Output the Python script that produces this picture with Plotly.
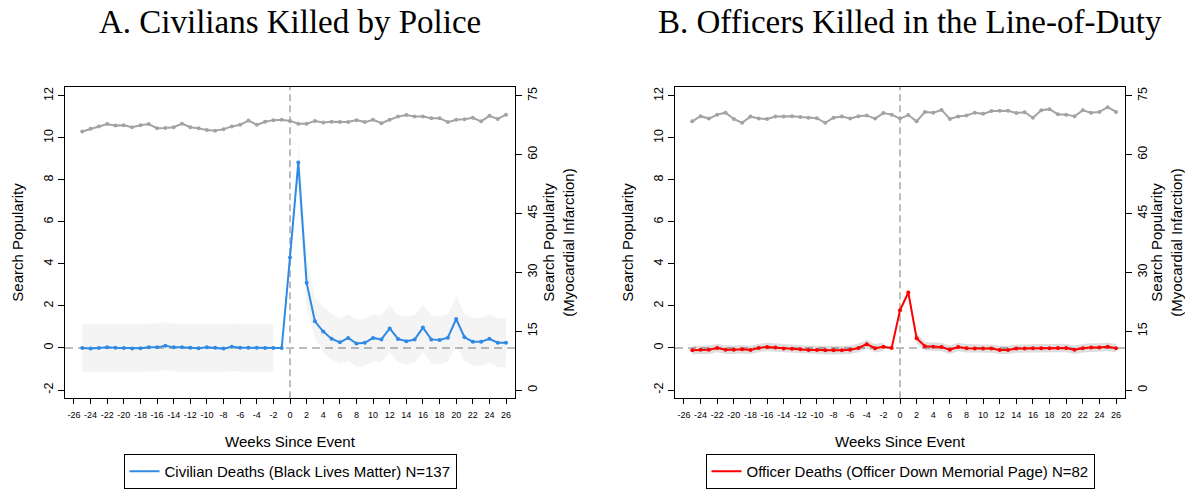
import plotly.graph_objects as go

# ---------------- data ----------------
weeks = list(range(-25, 27))
weeks_pre_band = list(range(-25, -1))     # -25 .. -2
weeks_post_band = list(range(1, 27))      # 1 .. 26
x_ticks = list(range(-26, 27, 2))
x_tick_labels = [str(v) for v in x_ticks]
left_ticks = list(range(-2, 13, 2))
left_tick_labels = [str(v) for v in left_ticks]
right_ticks = [0, 15, 30, 45, 60, 75]

# Panel A: civilians killed by police (Black Lives Matter searches)
blm = [0.0, -0.03, 0.0, 0.03, 0.01, 0.0, -0.03, -0.01, 0.03, 0.03, 0.11, 0.03, 0.03,
       0.01, -0.01, 0.03, 0.01, -0.03, 0.06, 0.01, 0.01, 0.01, 0.0, 0.0, 0.0,
       4.31, 8.83, 3.1, 1.27, 0.78, 0.44, 0.27, 0.48, 0.21, 0.25, 0.48, 0.41, 0.93,
       0.43, 0.32, 0.4, 0.97, 0.41, 0.38, 0.49, 1.38, 0.51, 0.3, 0.3, 0.44, 0.25, 0.25]
blm_pre_hi = [1.14, 1.12, 1.14, 1.16, 1.15, 1.14, 1.12, 1.13, 1.16, 1.16, 1.22, 1.16,
              1.15, 1.14, 1.12, 1.15, 1.14, 1.12, 1.17, 1.14, 1.14, 1.14, 1.13, 1.13]
blm_pre_lo = [-1.14, -1.16, -1.14, -1.12, -1.13, -1.14, -1.16, -1.15, -1.12, -1.12, -1.05, -1.12,
              -1.12, -1.13, -1.15, -1.12, -1.14, -1.16, -1.10, -1.13, -1.13, -1.13, -1.14, -1.14]
blm_post_hi = [10.0, 4.3, 2.4, 1.95, 1.64, 1.42, 1.6, 1.35, 1.38, 1.6, 1.56, 2.06, 1.57,
               1.5, 1.57, 2.07, 1.55, 1.52, 1.62, 2.47, 1.64, 1.44, 1.44, 1.6, 1.41, 1.41]
blm_post_lo = [7.6, 1.9, 0.5, -0.2, -0.55, -0.75, -0.62, -0.9, -0.84, -0.64, -0.68, -0.2, -0.68,
               -0.78, -0.7, -0.16, -0.74, -0.8, -0.66, 0.15, -0.62, -0.84, -0.84, -0.7, -0.92, -0.92]
mi_a = [65.9, 66.6, 67.2, 67.8, 67.4, 67.5, 67.0, 67.5, 67.8, 66.7, 66.8, 67.0, 67.9,
        67.0, 66.7, 66.3, 66.1, 66.5, 67.2, 67.6, 68.7, 67.6, 68.4, 68.8, 68.9,
        68.6, 67.9, 67.9, 68.6, 68.2, 68.4, 68.3, 68.3, 68.8, 68.3, 68.9, 68.0, 68.9,
        69.7, 70.1, 69.7, 69.7, 69.3, 69.3, 68.3, 68.9, 69.0, 69.4, 68.5, 69.9, 69.1, 70.2]

# Panel B: officers killed in the line of duty (Officer Down Memorial Page searches)
odmp = [-0.11, -0.08, -0.08, 0.0, -0.08, -0.08, -0.06, -0.09, 0.0, 0.05, 0.02, -0.03, -0.04,
        -0.06, -0.09, -0.09, -0.11, -0.11, -0.11, -0.08, 0.0, 0.18, -0.01, 0.06, 0.0,
        1.79, 2.64, 0.46, 0.08, 0.06, 0.05, -0.08, 0.05, -0.01, -0.03, -0.03, -0.03, -0.09,
        -0.09, -0.03, -0.03, -0.01, -0.01, -0.01, 0.0, 0.0, -0.08, -0.01, 0.02, 0.02, 0.06, -0.01]
odmp_pre_hi = [0.09, 0.12, 0.12, 0.2, 0.12, 0.12, 0.14, 0.11, 0.2, 0.25, 0.22, 0.17,
               0.16, 0.14, 0.11, 0.11, 0.09, 0.09, 0.09, 0.12, 0.21, 0.38, 0.19, 0.26]
odmp_pre_lo = [-0.31, -0.28, -0.28, -0.2, -0.28, -0.28, -0.26, -0.29, -0.2, -0.15, -0.18, -0.23,
               -0.24, -0.26, -0.29, -0.29, -0.31, -0.31, -0.31, -0.28, -0.2, -0.02, -0.21, -0.14]
odmp_post_hi = [2.84, 0.7, 0.28, 0.26, 0.25, 0.12, 0.25, 0.19, 0.17, 0.17, 0.17, 0.11, 0.11,
                0.17, 0.17, 0.19, 0.19, 0.19, 0.2, 0.2, 0.12, 0.19, 0.22, 0.22, 0.26, 0.19]
odmp_post_lo = [2.44, 0.22, -0.12, -0.14, -0.15, -0.28, -0.15, -0.21, -0.23, -0.23, -0.23, -0.29, -0.29,
                -0.23, -0.23, -0.21, -0.21, -0.21, -0.2, -0.2, -0.28, -0.21, -0.18, -0.18, -0.14, -0.21]
mi_b = [68.5, 69.8, 69.2, 70.2, 70.7, 69.1, 68.1, 69.7, 69.2, 69.1, 69.7, 69.7, 69.8,
        69.6, 69.4, 69.3, 68.1, 69.4, 69.7, 69.2, 69.8, 70.0, 69.2, 70.6, 70.2,
        69.2, 70.1, 68.5, 70.9, 70.7, 71.4, 69.1, 69.7, 70.0, 70.7, 70.4, 71.1, 71.2,
        71.2, 70.6, 70.8, 69.4, 71.3, 71.6, 70.3, 70.2, 69.8, 71.3, 70.7, 70.9, 72.1, 70.9]

# ---------------- styling ----------------
W, H = 1185, 489
BLUE = "#2f8ae6"
RED = "#ff0000"
GRAY = "#a3a3a3"
SANS = "Liberation Sans, Arial, sans-serif"
SERIF = "Liberation Serif, Times New Roman, serif"

def band(xs, hi, lo, xa, ya, color):
    return go.Scatter(x=xs + xs[::-1], y=hi + lo[::-1], mode="lines", fill="toself",
                      fillcolor=color, line=dict(width=0), hoverinfo="skip",
                      showlegend=False, xaxis=xa, yaxis=ya)

def series(xs, ys, xa, ya, color, name=None, legend=None):
    """Line (carries the legend entry) plus its point markers."""
    out = [go.Scatter(x=xs, y=ys, mode="lines", xaxis=xa, yaxis=ya,
                      line=dict(color=color, width=2),
                      name=name or "", showlegend=name is not None,
                      legend=legend or "legend")]
    out.append(go.Scatter(x=xs, y=ys, mode="markers", xaxis=xa, yaxis=ya,
                          marker=dict(color=color, size=4), showlegend=False,
                          name=name or "", hoverinfo="skip"))
    return out

fig = go.Figure()

# Panel A
fig.add_trace(band(weeks_pre_band, blm_pre_hi, blm_pre_lo, "x", "y", "rgba(0,0,0,0.045)"))
fig.add_trace(band(weeks_post_band, blm_post_hi, blm_post_lo, "x", "y", "rgba(0,0,0,0.045)"))
fig.add_traces(series(weeks, mi_a, "x", "y2", GRAY))
fig.add_traces(series(weeks, blm, "x", "y", BLUE,
                      "Civilian Deaths (Black Lives Matter) N=137", "legend"))

# Panel B
fig.add_trace(band(weeks_pre_band, odmp_pre_hi, odmp_pre_lo, "x2", "y3", "rgba(0,0,0,0.13)"))
fig.add_trace(band(weeks_post_band, odmp_post_hi, odmp_post_lo, "x2", "y3", "rgba(0,0,0,0.13)"))
fig.add_traces(series(weeks, mi_b, "x2", "y4", GRAY))
fig.add_traces(series(weeks, odmp, "x2", "y3", RED,
                      "Officer Deaths (Officer Down Memorial Page) N=82", "legend2"))

# reference lines
for xa, ya in (("x", "y"), ("x2", "y3")):
    fig.add_shape(type="line", xref=xa, yref=ya + " domain", x0=0, x1=0, y0=0, y1=1,
                  line=dict(color="#9a9a9a", width=1.3, dash="7px,4px"), layer="below")
    fig.add_shape(type="line", xref=xa + " domain", yref=ya, x0=0, x1=1, y0=0, y1=0,
                  line=dict(color="#bdbdbd", width=2, dash="8px,5px"), layer="below")

# geometry (pixels -> paper)
plot_top, plot_bot = 87, 399
ydom = [1 - plot_bot / H, 1 - plot_top / H]
xdomA = [65 / W, 515 / W]
xdomB = [675 / W, 1125 / W]
yr_left = [-2.388, 12.427]
yr_right = [-2.08, 77.29]
xr = [-27.08, 27.08]

common_axis = dict(showline=True, linecolor="black", linewidth=1.3, showgrid=False,
                   zeroline=False, ticks="outside", tickcolor="black", tickwidth=1,
                   automargin=False)

def xaxis(dom, anchor):
    return dict(common_axis, domain=dom, range=xr, anchor=anchor, mirror=True,
                tickvals=x_ticks, ticktext=x_tick_labels, ticklen=5, tickangle=0,
                ticklabelstandoff=3,
                tickfont=dict(size=9, family=SANS),
                title=dict(text="Weeks Since Event", font=dict(size=15, family=SANS), standoff=17))

def yleft(anchor):
    return dict(common_axis, domain=ydom, range=yr_left, anchor=anchor, tickvals=left_ticks,
                ticktext=left_tick_labels,
                tickangle=-90, ticklen=6, tickfont=dict(size=12.5, family=SANS),
                title=dict(text="Search Popularity", font=dict(size=15, family=SANS), standoff=14))

def yright(over, anchor):
    return dict(common_axis, overlaying=over, side="right", anchor=anchor, range=yr_right,
                tickvals=right_ticks, tickangle=-90, ticklen=6,
                tickfont=dict(size=12.5, family=SANS),
                title=dict(text="Search Popularity<br>(Myocardial Infarction)",
                           font=dict(size=15, family=SANS), standoff=3))

legend_common = dict(bordercolor="black", borderwidth=1, bgcolor="white",
                     font=dict(size=15, family=SANS), orientation="h",
                     xanchor="center", yanchor="middle", y=1 - 472 / H)

fig.update_layout(
    width=W, height=H, autosize=False,
    margin=dict(l=0, r=0, t=0, b=0),
    paper_bgcolor="white", plot_bgcolor="white",
    font=dict(family=SANS, color="black"),
    xaxis=xaxis(xdomA, "y"),
    yaxis=yleft("x"),
    yaxis2=yright("y", "x"),
    xaxis2=xaxis(xdomB, "y3"),
    yaxis3=yleft("x2"),
    yaxis4=yright("y3", "x2"),
    legend=dict(legend_common, x=290 / W),
    legend2=dict(legend_common, x=900 / W),
    annotations=[
        dict(text="A. Civilians Killed by Police", x=290 / W, y=1 - 22 / H, xref="paper", yref="paper",
             showarrow=False, font=dict(size=33, family=SERIF, color="black"),
             xanchor="center", yanchor="middle"),
        dict(text="B. Officers Killed in the Line-of-Duty", x=910 / W, y=1 - 22 / H, xref="paper",
             yref="paper", showarrow=False, font=dict(size=33, family=SERIF, color="black"),
             xanchor="center", yanchor="middle"),
    ],
)

# remove the browser's default 8px page margin so the figure fills the window exactly
fig.write_html("out.html", config={"displayModeBar": False},
               post_script="document.body.style.margin='0';")
